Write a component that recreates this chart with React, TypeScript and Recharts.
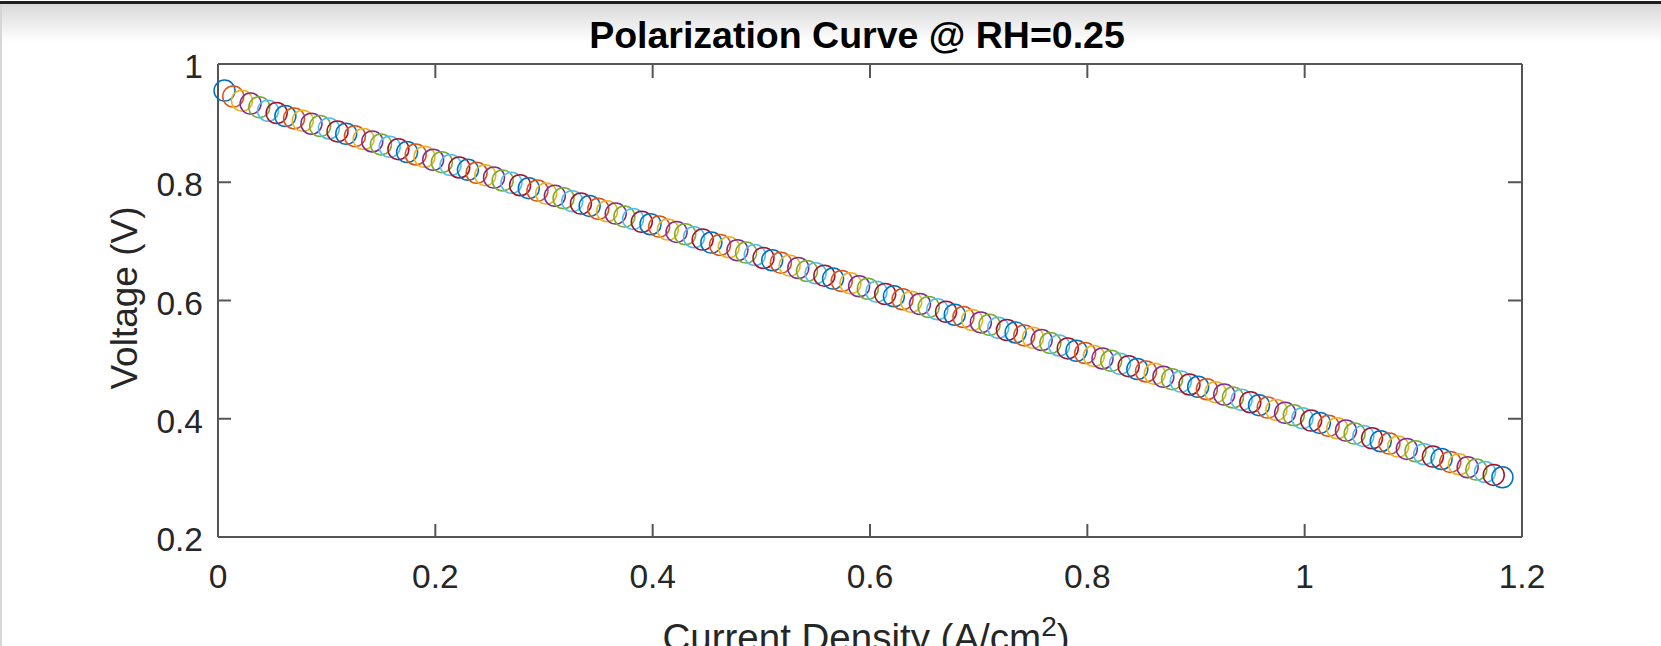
import { ScatterChart, Scatter, XAxis, YAxis } from "recharts";

// current density (A/cm^2)
const currentDensity = [
  0.006, 0.014, 0.022, 0.03, 0.038, 0.046, 0.054, 0.062, 0.07, 0.078,
  0.086, 0.094, 0.102, 0.11, 0.118, 0.126, 0.134, 0.142, 0.15, 0.158,
  0.166, 0.174, 0.182, 0.19, 0.198, 0.206, 0.214, 0.222, 0.23, 0.238,
  0.246, 0.254, 0.262, 0.27, 0.278, 0.286, 0.294, 0.302, 0.31, 0.318,
  0.326, 0.334, 0.342, 0.35, 0.358, 0.366, 0.374, 0.382, 0.39, 0.398,
  0.406, 0.414, 0.422, 0.43, 0.438, 0.446, 0.454, 0.462, 0.47, 0.478,
  0.486, 0.494, 0.502, 0.51, 0.518, 0.526, 0.534, 0.542, 0.55, 0.558,
  0.566, 0.574, 0.582, 0.59, 0.598, 0.606, 0.614, 0.622, 0.63, 0.638,
  0.646, 0.654, 0.662, 0.67, 0.678, 0.686, 0.694, 0.702, 0.71, 0.718,
  0.726, 0.734, 0.742, 0.75, 0.758, 0.766, 0.774, 0.782, 0.79, 0.798,
  0.806, 0.814, 0.822, 0.83, 0.838, 0.846, 0.854, 0.862, 0.87, 0.878,
  0.886, 0.894, 0.902, 0.91, 0.918, 0.926, 0.934, 0.942, 0.95, 0.958,
  0.966, 0.974, 0.982, 0.99, 0.998, 1.006, 1.014, 1.022, 1.03, 1.038,
  1.046, 1.054, 1.062, 1.07, 1.078, 1.086, 1.094, 1.102, 1.11, 1.118,
  1.126, 1.134, 1.142, 1.15, 1.158, 1.166, 1.174, 1.182,
];

// cell voltage (V)
const voltage = [
  0.955, 0.945, 0.938, 0.933, 0.927, 0.921, 0.917, 0.912, 0.908, 0.904,
  0.899, 0.895, 0.891, 0.886, 0.882, 0.878, 0.873, 0.869, 0.864, 0.86,
  0.856, 0.851, 0.847, 0.843, 0.838, 0.834, 0.829, 0.825, 0.821, 0.816,
  0.812, 0.808, 0.803, 0.799, 0.795, 0.79, 0.786, 0.781, 0.777, 0.773,
  0.768, 0.764, 0.76, 0.755, 0.751, 0.747, 0.742, 0.738, 0.733, 0.729,
  0.725, 0.72, 0.716, 0.712, 0.707, 0.703, 0.698, 0.694, 0.69, 0.685,
  0.681, 0.677, 0.672, 0.668, 0.664, 0.659, 0.655, 0.65, 0.646, 0.642,
  0.637, 0.633, 0.629, 0.624, 0.62, 0.615, 0.611, 0.607, 0.602, 0.598,
  0.594, 0.589, 0.585, 0.581, 0.576, 0.572, 0.567, 0.563, 0.559, 0.554,
  0.55, 0.546, 0.541, 0.537, 0.533, 0.528, 0.524, 0.519, 0.515, 0.511,
  0.506, 0.502, 0.498, 0.493, 0.489, 0.484, 0.48, 0.476, 0.471, 0.467,
  0.463, 0.458, 0.454, 0.45, 0.445, 0.441, 0.436, 0.432, 0.428, 0.423,
  0.419, 0.415, 0.41, 0.406, 0.401, 0.397, 0.393, 0.388, 0.384, 0.38,
  0.375, 0.371, 0.367, 0.362, 0.358, 0.353, 0.349, 0.345, 0.34, 0.336,
  0.332, 0.327, 0.323, 0.318, 0.314, 0.31, 0.305, 0.301,
];

const xTicks = [0, 0.2, 0.4, 0.6, 0.8, 1, 1.2];
const yTicks = [0.2, 0.4, 0.6, 0.8, 1];

const title = "Polarization Curve @ RH=0.25";
const yLabel = "Voltage (V)";

const points = currentDensity.map((c, i) => ({ current: c, voltage: voltage[i], n: i }));

// MATLAB default color order, one color per point
const colors = ["#0072BD", "#D95319", "#EDB120", "#7E2F8E", "#77AC30", "#4DBEEE", "#A2142F"];

const W = 1661;
const H = 646;
const FONT = '"Liberation Sans", Arial, Helvetica, sans-serif';
const AXIS = "#555555";
const TEXT = "#262626";
const TICK = 13;

function BottomTick({ x, y, payload }: any) {
  return (
    <g>
      <line x1={x} y1={y} x2={x} y2={y - TICK} stroke={AXIS} strokeWidth={2} />
      <text x={x} y={y + 51} textAnchor="middle" fontSize={33.5} fill={TEXT} fontFamily={FONT}>
        {String(payload.value)}
      </text>
    </g>
  );
}

function LeftTick({ x, y, payload }: any) {
  return (
    <g>
      <line x1={x} y1={y} x2={x + TICK} y2={y} stroke={AXIS} strokeWidth={2} />
      <text x={x - 15} y={y + 14} textAnchor="end" fontSize={33.5} fill={TEXT} fontFamily={FONT}>
        {String(payload.value)}
      </text>
    </g>
  );
}

// top axis is 1px tall: its tick y sits on the outer edge, the line on the inner one
function TopTick({ x, y }: any) {
  return <line x1={x} y1={y + 1} x2={x} y2={y + 1 + TICK} stroke={AXIS} strokeWidth={2} />;
}

function RightTick({ x, y }: any) {
  return <line x1={x - 1} y1={y} x2={x - 1 - TICK} y2={y} stroke={AXIS} strokeWidth={2} />;
}

function Ring(props: any) {
  const { cx, cy, payload } = props;
  const n = payload && payload.n != null ? payload.n : props.index || 0;
  return <circle cx={cx} cy={cy} r={10.5} fill="none" stroke={colors[n % colors.length]} strokeWidth={1.5} />;
}

// keeps the top/right box axes alive without drawing anything
function Nothing() {
  return <g />;
}

export default function App() {
  return (
    <div
      style={{
        position: "absolute",
        left: 0,
        top: 0,
        width: W,
        height: H,
        overflow: "hidden",
        background: "#fff",
      }}
    >
      {/* window frame */}
      <div style={{ position: "absolute", left: 0, top: 4, width: W, height: 38, background: "linear-gradient(#d9d9d9, #ffffff)" }} />
      <div style={{ position: "absolute", left: 0, top: 1, width: W, height: 3, background: "#1e1e1e" }} />
      <div style={{ position: "absolute", left: 0, top: 4, width: 2, height: H, background: "#d6d6d6" }} />

      <div style={{ position: "absolute", left: 0, top: 0 }}>
        <ScatterChart width={W} height={H} margin={{ top: 63, right: 138, bottom: 0, left: 0 }}>
          <XAxis
            type="number"
            dataKey="current"
            domain={[0, 1.2]}
            ticks={xTicks}
            height={109}
            tickSize={0}
            tickMargin={0}
            tickLine={false}
            axisLine={{ stroke: AXIS, strokeWidth: 2 }}
            tick={<BottomTick />}
            interval={0}
          />
          <XAxis
            xAxisId="top"
            orientation="top"
            type="number"
            dataKey="current"
            domain={[0, 1.2]}
            ticks={xTicks}
            height={1}
            tickSize={0}
            tickMargin={0}
            tickLine={false}
            axisLine={{ stroke: AXIS, strokeWidth: 2 }}
            tick={<TopTick />}
            interval={0}
          />
          <YAxis
            type="number"
            dataKey="voltage"
            domain={[0.2, 1]}
            ticks={yTicks}
            width={218}
            tickSize={0}
            tickMargin={0}
            tickLine={false}
            axisLine={{ stroke: AXIS, strokeWidth: 2 }}
            tick={<LeftTick />}
            interval={0}
          />
          <YAxis
            yAxisId="right"
            orientation="right"
            type="number"
            dataKey="voltage"
            domain={[0.2, 1]}
            ticks={yTicks}
            width={1}
            tickSize={0}
            tickMargin={0}
            tickLine={false}
            axisLine={{ stroke: AXIS, strokeWidth: 2 }}
            tick={<RightTick />}
            interval={0}
          />
          <Scatter data={points} xAxisId="top" yAxisId="right" shape={Nothing} isAnimationActive={false} />
          <Scatter data={points} shape={Ring} isAnimationActive={false} />
        </ScatterChart>
      </div>

      {/* title and axis labels */}
      <svg width={W} height={H} style={{ position: "absolute", left: 0, top: 0, pointerEvents: "none" }}>
        <text x={857} y={48} textAnchor="middle" fontSize={37.5} fontWeight="bold" fill="#000" fontFamily={FONT}>
          {title}
        </text>
        <text transform="translate(137,298) rotate(-90)" textAnchor="middle" fontSize={37} fill={TEXT} fontFamily={FONT}>
          {yLabel}
        </text>
        <text x={866} y={651} textAnchor="middle" fontSize={38.5} fill={TEXT} fontFamily={FONT}>
          Current Density (A/cm
          <tspan dy={-15} fontSize={28}>2</tspan>
          <tspan dy={15}>)</tspan>
        </text>
      </svg>
    </div>
  );
}
